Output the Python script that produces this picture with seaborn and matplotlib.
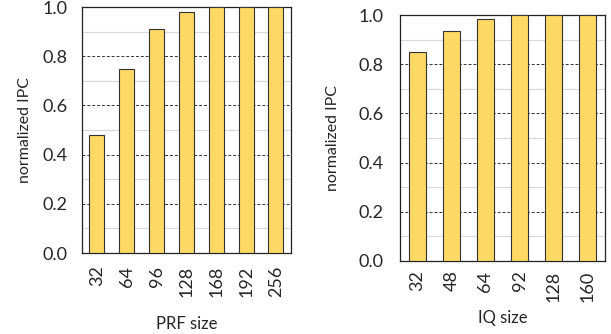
import matplotlib
matplotlib.use("Agg")
import matplotlib.pyplot as plt
import seaborn as sns
import pandas as pd
from matplotlib.ticker import MultipleLocator

prf_sizes = ["32", "64", "96", "128", "168", "192", "256"]
prf_ipc = [0.48, 0.75, 0.91, 0.98, 1.0, 1.0, 1.0]

iq_sizes = ["32", "48", "64", "92", "128", "160"]
iq_ipc = [0.85, 0.935, 0.985, 1.0, 1.0, 1.0]

sns.set_theme(style="white")
plt.rcParams['font.family'] = ['Lato', 'DejaVu Sans']

BAR = "#FFD966"
EDGE = "#333333"


def draw_panel(ax, sizes, values, xlabel, xpad, ypad, xlabelpad, ylabelpad):
    df = pd.DataFrame({"size": sizes, "ipc": values})
    sns.barplot(data=df, x="size", y="ipc", color=BAR, width=0.5,
                edgecolor=EDGE, linewidth=0.8, saturation=1, ax=ax, zorder=3)
    ax.set_ylim(0, 1.0)
    ax.yaxis.set_minor_locator(MultipleLocator(0.1))
    ax.grid(which="minor", axis="y", color="#d9d9d9", linewidth=0.8, zorder=0)
    ax.grid(which="major", axis="y", color="#333333", linestyle=(0, (3, 2)),
            linewidth=0.7, zorder=0)
    ax.set_axisbelow(True)
    ticks = [0, 0.2, 0.4, 0.6, 0.8, 1.0]
    ax.set_yticks(ticks)
    ax.set_yticklabels([f"{v:.1f}" for v in ticks], fontsize=13)
    ax.tick_params(axis="x", labelrotation=90, labelsize=13, length=0, pad=xpad)
    ax.tick_params(axis="y", which="both", length=0, pad=ypad)
    ax.set_ylabel("normalized IPC", fontsize=11.5, labelpad=ylabelpad)
    ax.set_xlabel(xlabel, fontsize=12, labelpad=xlabelpad)
    for s in ax.spines.values():
        s.set_visible(True)
        s.set_color("#222222")
        s.set_linewidth(0.9)


fig = plt.figure(figsize=(6.11, 3.34), dpi=100)
ax1 = fig.add_axes([0.134, 0.2425, 0.342, 0.7365])
ax2 = fig.add_axes([0.655, 0.219, 0.335, 0.736])

draw_panel(ax1, prf_sizes, prf_ipc, "PRF size", xpad=9, ypad=10,
           xlabelpad=14, ylabelpad=8)
draw_panel(ax2, iq_sizes, iq_ipc, "IQ size", xpad=7, ypad=12,
           xlabelpad=6, ylabelpad=13)

fig.savefig("out.png", dpi=100)
